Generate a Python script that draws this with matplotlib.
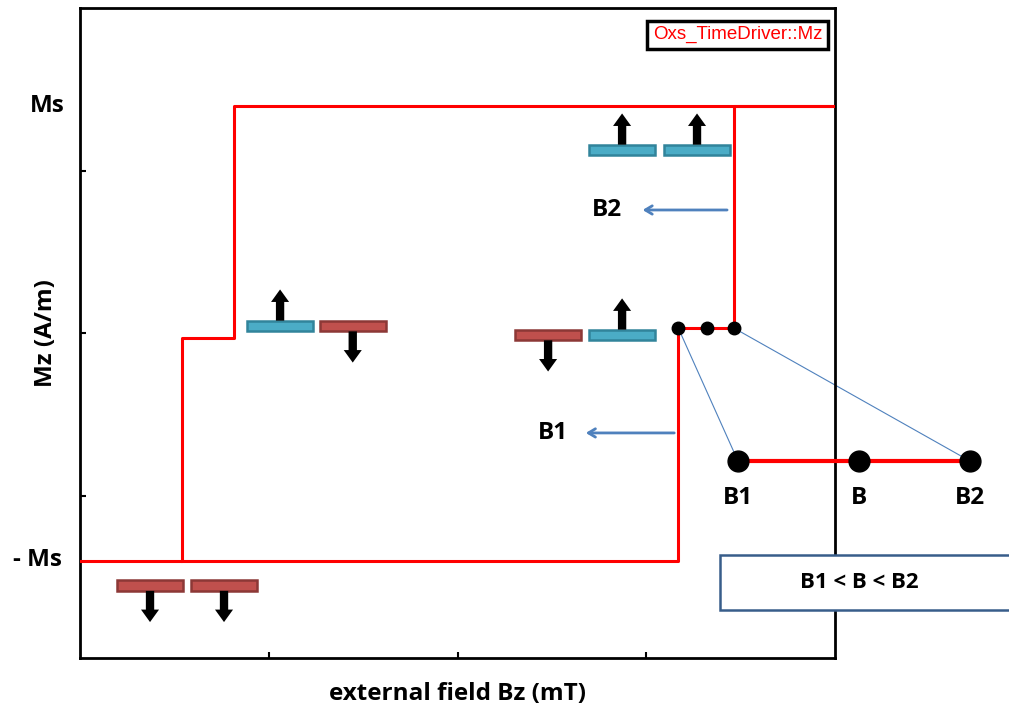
import numpy as np
import matplotlib.pyplot as plt
from matplotlib.patches import Rectangle, FancyArrowPatch

# hysteresis loop (field in arbitrary units, Mz in units where Ms = 1.4)
ms = 1.4
down_x = [4.0, 0.816, 0.816, 0.54, 0.54, 0.0]
down_y = [ms, ms, -0.03, -0.03, -ms, -ms]
up_x = [0.54, 3.17, 3.17, 3.465, 3.465, 4.0]
up_y = [-ms, -ms, 0.03, 0.03, ms, ms]
dots_x = [3.17, 3.32, 3.465]
dots_y = [0.03, 0.03, 0.03]

# magnets: left edge, centre height, state (+1 up / -1 down)
mag_x = [0.196, 0.588, 0.885, 1.27, 2.305, 2.697, 2.697, 3.094]
mag_y = [-1.554, -1.554, 0.043, 0.043, -0.012, -0.012, 1.126, 1.126]
mag_state = [-1, -1, 1, -1, -1, 1, 1, 1]

# zoomed switching window
inset_x = [3.486, 4.127, 4.715]
inset_y = [-0.788, -0.788, -0.788]
inset_labels = ['B1', 'B', 'B2']

FONT = 'Open Sans'
FS = 17.5

fig = plt.figure(figsize=(10.09, 7.13), dpi=100)
ax = fig.add_axes([80 / 1009, 55 / 713, 755 / 1009, 650 / 713])
ax.set_xlim(0, 4)
ax.set_ylim(-2, 2)
ax.set_xticks([1, 2, 3])
ax.set_yticks([-1, 0, 1])
ax.set_xticklabels([])
ax.set_yticklabels([])
ax.tick_params(direction='in', length=4, width=1.5, top=False, right=False)
for s in ax.spines.values():
    s.set_linewidth(2)

ax.plot(down_x, down_y, color='#ff0000', lw=2.2, zorder=3)
ax.plot(up_x, up_y, color='#ff0000', lw=2.2, zorder=3)
ax.plot(dots_x, dots_y, 'o', color='black', ms=9, zorder=4)

# magnet bars with arrows
bar_w, bar_h = 0.35, 0.066
for x0, yc, st in zip(mag_x, mag_y, mag_state):
    if st > 0:
        fc, ec = '#4bacc6', '#31849b'
    else:
        fc, ec = '#c0504d', '#8c3836'
    ax.add_patch(Rectangle((x0, yc - bar_h / 2), bar_w, bar_h, facecolor=fc,
                           edgecolor=ec, lw=1.8, zorder=5))
    xm = x0 + bar_w / 2
    if st > 0:
        a0, a1 = yc + bar_h / 2, yc + 0.225
    else:
        a0, a1 = yc - bar_h / 2, yc - 0.225
    ax.add_patch(FancyArrowPatch((xm, a0), (xm, a1), mutation_scale=10,
                                 arrowstyle='simple,head_length=0.9,head_width=1.3,tail_width=0.6',
                                 color='black', lw=0, zorder=6, shrinkA=0, shrinkB=0))

# field arrows
blue = '#4f81bd'
ax.annotate('', xy=(2.966, 0.757), xytext=(3.443, 0.757),
            arrowprops=dict(arrowstyle='->,head_length=0.5,head_width=0.3', color=blue, lw=2))
ax.text(2.792, 0.757, 'B2', fontsize=FS, fontweight='bold', family=FONT, ha='center', va='center')
ax.annotate('', xy=(2.665, -0.615), xytext=(3.163, -0.615),
            arrowprops=dict(arrowstyle='->,head_length=0.5,head_width=0.3', color=blue, lw=2))
ax.text(2.506, -0.615, 'B1', fontsize=FS, fontweight='bold', family=FONT, ha='center', va='center')

# inset
ax.plot([dots_x[0], inset_x[0]], [dots_y[0], inset_y[0]], color=blue, lw=0.8, clip_on=False, zorder=2)
ax.plot([dots_x[2], inset_x[2]], [dots_y[2], inset_y[2]], color=blue, lw=0.8, clip_on=False, zorder=2)
ax.plot(inset_x, inset_y, color='#ff0000', lw=3, clip_on=False, zorder=4)
ax.plot(inset_x, inset_y, 'o', color='black', ms=15, clip_on=False, zorder=5)
for xi, lab in zip(inset_x, inset_labels):
    ax.text(xi, -1.015, lab, fontsize=FS, fontweight='bold', family=FONT,
            ha='center', va='center', clip_on=False)

ax.add_patch(Rectangle((3.39, -1.705), 1.6, 0.339, facecolor='white', edgecolor='#385d8a',
                       lw=1.8, clip_on=False, zorder=6))
ax.text(4.127, -1.535, 'B1 < B < B2', fontsize=16, fontweight='bold', family=FONT,
        ha='center', va='center', zorder=7, clip_on=False)

# legend-like label
ax.text(0.983, 0.972, 'Oxs_TimeDriver::Mz', transform=ax.transAxes, color='#ff0000',
        fontsize=13.5, family='Liberation Sans', ha='right', va='top',
        bbox=dict(boxstyle='square,pad=0.3', facecolor='white', edgecolor='black', lw=2.5))

# axis labels
ax.text(-0.02, ms, 'Ms', fontsize=FS, fontweight='bold', family=FONT,
        ha='right', va='center', transform=ax.get_yaxis_transform(), clip_on=False)
ax.text(-0.024, -ms, '- Ms', fontsize=FS, fontweight='bold', family=FONT,
        ha='right', va='center', transform=ax.get_yaxis_transform(), clip_on=False)
ax.set_xlabel('external field Bz (mT)', fontsize=FS, fontweight='bold', family=FONT, labelpad=14)
ax.set_ylabel('Mz (A/m)', fontsize=FS, fontweight='bold', family=FONT, labelpad=12)

fig.savefig('out.png', dpi=100)
